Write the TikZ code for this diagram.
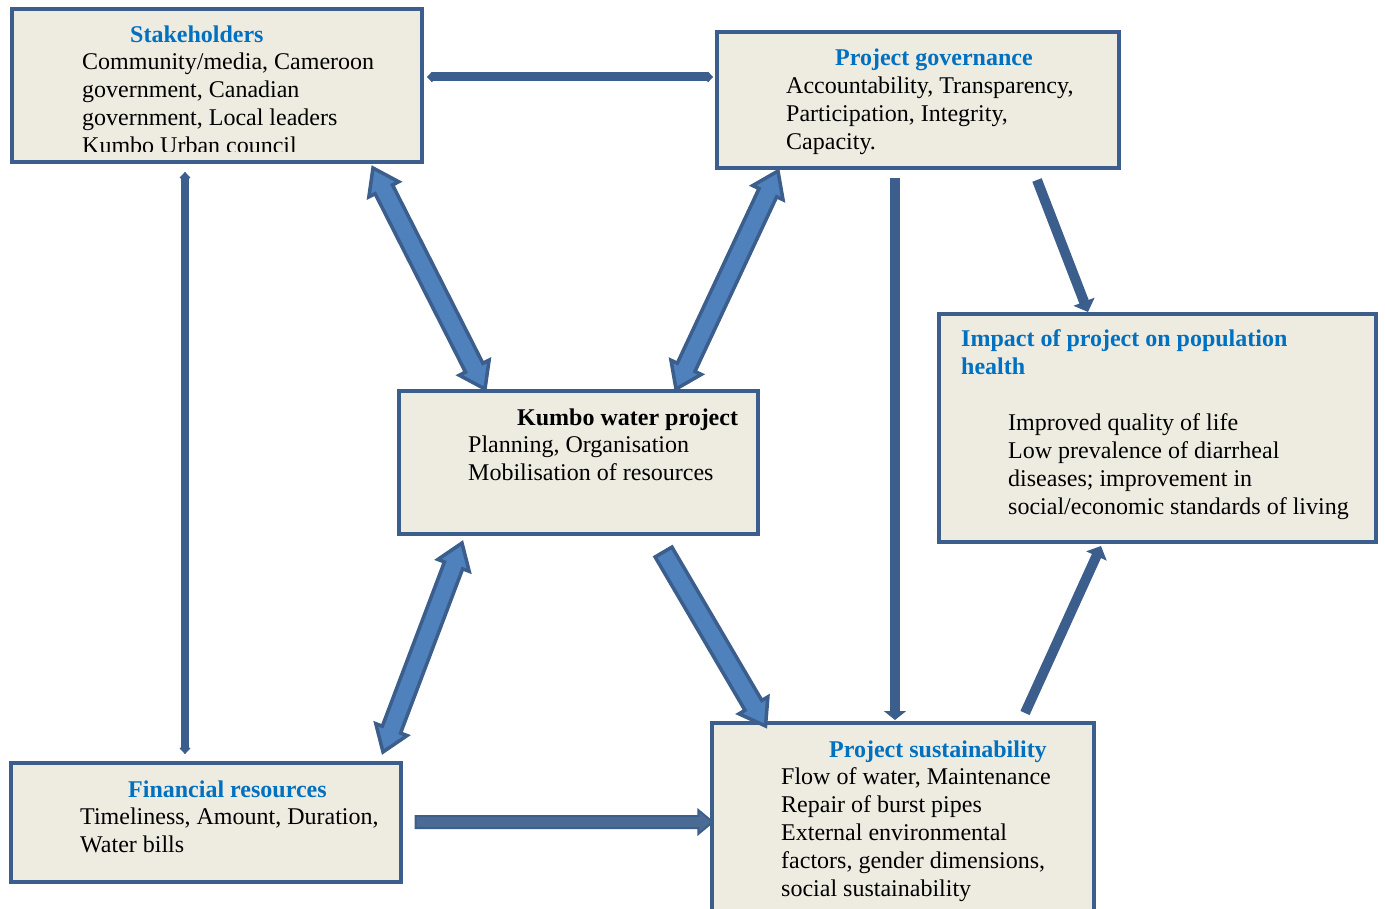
\documentclass[tikz,border=0pt]{standalone}
\usepackage{fontspec}
\setmainfont{Liberation Serif}
\usetikzlibrary{arrows.meta,calc,shapes.arrows}

\definecolor{edge}{HTML}{3B5E8C}
\definecolor{paper}{HTML}{EEEBE1}
\definecolor{headblue}{HTML}{0070C0}
\definecolor{shaft}{HTML}{4F81BD}

\tikzset{
  panel/.style={draw=edge, line width=4pt, fill=paper, inner sep=0pt, rectangle},
  txt/.style={anchor=base west, inner sep=0pt, font=\fontsize{24}{28}\selectfont},
  ttl/.style={anchor=base west, inner sep=0pt, font=\fontsize{24}{28}\selectfont\bfseries, text=headblue},
  link/.style={draw=edge, line width=#1},
  % shaft width comes from inner ysep (empty text), head from head extend
  dblock/.style={double arrow, draw=edge, line width=3.5pt, fill=shaft, inner xsep=0pt, inner ysep=8pt,
    minimum width=0pt, double arrow head extend=7pt, double arrow tip angle=70},
  sblock/.style={single arrow, draw=edge, line width=3.5pt, fill=shaft, inner xsep=0pt, inner ysep=8pt,
    minimum width=0pt, single arrow head extend=7pt, single arrow tip angle=70},
  dblockdark/.style={single arrow, draw=edge, line width=2pt, fill=edge!92!white, inner xsep=0pt, inner ysep=5pt,
    minimum width=0pt, single arrow head extend=6pt, single arrow tip angle=80},
}

% fat arrow node stretched between two named coordinates
\newcommand\bluearrow[4]{%
  \path let \p1=($(#3)-(#2)$), \n1={atan2(\y1,\x1)}, \n2={veclen(\x1,\y1)} in
    node[#1, rotate=\n1, minimum height=\n2] (#4) at ($(#2)!0.5!(#3)$) {};}

\begin{document}
\begin{tikzpicture}[x=1pt, y=-1pt]
\useasboundingbox (0,0) rectangle (1385,909);
\clip (0,0) rectangle (1385,909);

% ---- boxes ----
\node[panel, minimum width=410pt, minimum height=153pt] (sh) at (217,85.5) {};
\node[panel, minimum width=402pt, minimum height=136pt] (gov) at (918,100) {};
\node[panel, minimum width=359pt, minimum height=143pt] (kwp) at (578.5,462.5) {};
\node[panel, minimum width=437pt, minimum height=228pt] (imp) at (1157.5,428) {};
\node[panel, minimum width=390pt, minimum height=119pt] (fin) at (206,822.5) {};
\node[panel, minimum width=382pt, minimum height=192pt] (sus) at (903,819) {};

% ---- texts ----
\begin{scope}
  \clip (14,11) rectangle (420,151.5);
  \node[ttl] (shT) at (130,43) {Stakeholders};
  \node[txt] (sh1) at (82,70) {Community/media, Cameroon};
  \node[txt] (sh2) at (82,98) {government, Canadian};
  \node[txt] (sh3) at (82,126) {government, Local leaders};
  \node[txt] (sh4) at (82,154) {Kumbo Urban council};
\end{scope}

\node[ttl] (govT) at (835,66) {Project governance};
\node[txt] (gov1) at (786,94) {Accountability, Transparency,};
\node[txt] (gov2) at (786,122) {Participation, Integrity,};
\node[txt] (gov3) at (786,150) {Capacity.};

\node[ttl, text=black] (kwpT) at (517,425) {Kumbo water project};
\node[txt] (kwp1) at (468,452) {Planning, Organisation};
\node[txt] (kwp2) at (468,480) {Mobilisation of resources};

\node[ttl] (impT1) at (961,347) {Impact of project on population};
\node[ttl] (impT2) at (961,375) {health};
\node[txt] (imp1) at (1008,430) {Improved quality of life};
\node[txt] (imp2) at (1008,458) {Low prevalence of diarrheal};
\node[txt] (imp3) at (1008,486) {diseases; improvement in};
\node[txt] (imp4) at (1008,514) {social/economic standards of living};

\node[ttl] (finT) at (128,797) {Financial resources};
\node[txt] (fin1) at (80,824) {Timeliness, Amount, Duration,};
\node[txt] (fin2) at (80,852) {Water bills};

\node[ttl] (susT) at (829,757) {Project sustainability};
\node[txt] (sus1) at (781,784) {Flow of water, Maintenance};
\node[txt] (sus2) at (781,812) {Repair of burst pipes};
\node[txt] (sus3) at (781,840) {External environmental};
\node[txt] (sus4) at (781,868) {factors, gender dimensions,};
\node[txt] (sus5) at (781,896) {social sustainability};

% ---- connector end points ----
\coordinate (shE) at (427,77);   \coordinate (govW) at (713,77);
\coordinate (shS) at (185,172);  \coordinate (finN) at (185,754);
\coordinate (govS) at (895,178); \coordinate (susN) at (895,720);
\coordinate (govSE) at (1037,180); \coordinate (impN) at (1088,312);
\coordinate (susNE) at (1025,713); \coordinate (impS) at (1101,546);
\coordinate (a1s) at (373,168);  \coordinate (a1e) at (485,389);
\coordinate (a2s) at (778,171);  \coordinate (a2e) at (676,389);
\coordinate (a3s) at (462,543);  \coordinate (a3e) at (383,752);
\coordinate (a4s) at (660,546);  \coordinate (a4e) at (762,720);
\coordinate (a5s) at (412,822);  \coordinate (a5e) at (709,822);

% ---- thin connectors ----
\draw[link=9pt, {Latex[length=6pt,width=14pt,round]}-{Latex[length=6pt,width=14pt,round]}] (shE) -- (govW);
\draw[link=8pt, {Latex[length=7pt,width=14pt,round]}-{Latex[length=7pt,width=14pt,round]}] (shS) -- (finN);
\draw[link=10pt, -{Triangle[length=9pt,width=22pt]}] (govS) -- (susN);
\draw[link=10pt, -{Triangle[length=11pt,width=22pt]}] (govSE) -- (impN);
\draw[link=10pt, -{Triangle[length=11pt,width=22pt]}] (susNE) -- (impS);

% ---- fat connectors ----
\bluearrow{dblock}{a1s}{a1e}{fat1}
\bluearrow{dblock}{a2s}{a2e}{fat2}
\bluearrow{dblock}{a3s}{a3e}{fat3}
\bluearrow{sblock}{a4s}{a4e}{fat4}
\bluearrow{dblockdark}{a5s}{a5e}{fat5}
\end{tikzpicture}
\end{document}
